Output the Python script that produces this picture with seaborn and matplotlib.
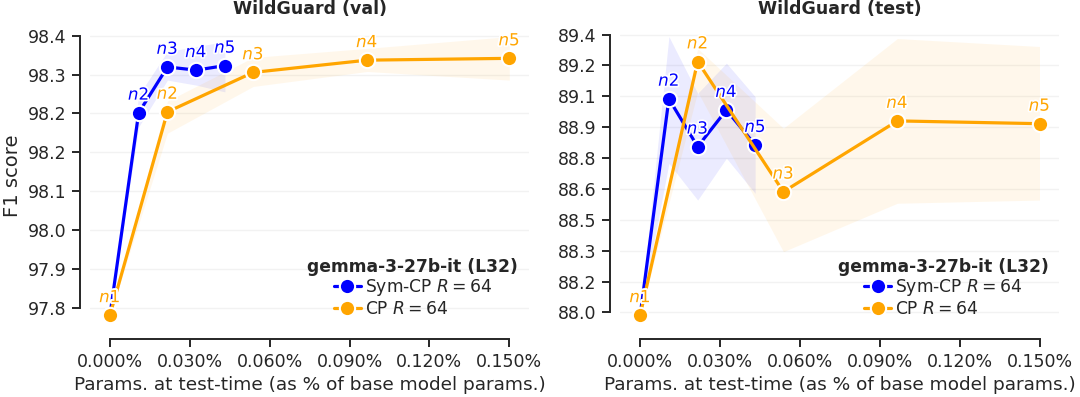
import matplotlib
matplotlib.use("Agg")
import matplotlib.pyplot as plt
import matplotlib.patheffects as pe
from matplotlib.ticker import FuncFormatter
import seaborn as sns
import numpy as np
import pandas as pd

# x positions: params at test-time (% of base model params)
symcp_x = [0.0, 0.0108, 0.0216, 0.0324, 0.0432]
cp_x = [0.0, 0.0216, 0.0538, 0.0966, 0.1500]
point_names = ["n1", "n2", "n3", "n4", "n5"]

# WildGuard (val)
val_symcp = [97.794, 98.240, 98.341, 98.334, 98.344]
val_symcp_lo = [97.794, 98.209, 98.312, 98.301, 98.286]
val_symcp_hi = [97.794, 98.279, 98.375, 98.386, 98.397]
val_cp = [97.794, 98.242, 98.329, 98.356, 98.360]
val_cp_lo = [97.794, 98.195, 98.298, 98.331, 98.312]
val_cp_hi = [97.794, 98.266, 98.362, 98.382, 98.408]

# WildGuard (test)
test_symcp = [87.986, 89.076, 88.835, 89.020, 88.844]
test_symcp_lo = [87.986, 88.751, 88.566, 88.777, 88.600]
test_symcp_hi = [87.986, 89.390, 89.104, 89.256, 89.087]
test_cp = [87.986, 89.264, 88.608, 88.965, 88.951]
test_cp_lo = [87.986, 89.112, 88.306, 88.550, 88.566]
test_cp_hi = [87.986, 89.330, 88.928, 89.380, 89.340]

val_yticks = np.linspace(97.81, 98.41, 8)
test_yticks = np.linspace(88.0, 89.4, 10)
xticks = [0.0, 0.03, 0.06, 0.09, 0.12, 0.15]

sns.set_theme(style="ticks")
plt.rcParams["font.family"] = ["DejaVu Sans"]

colors = {"Sym-CP $R=64$": "#0000ff", "CP $R=64$": "#ffa500"}

fig, axes = plt.subplots(1, 2, figsize=(10.8, 3.97), dpi=100)
fig.subplots_adjust(left=0.0833, right=0.981, bottom=0.171, top=0.943, wspace=0.207)

panels = [
    ("WildGuard (val)", val_symcp, val_symcp_lo, val_symcp_hi, val_cp, val_cp_lo, val_cp_hi, val_yticks),
    ("WildGuard (test)", test_symcp, test_symcp_lo, test_symcp_hi, test_cp, test_cp_lo, test_cp_hi, test_yticks),
]

for ax, (title, sy, slo, shi, cy, clo, chi, yticks) in zip(axes, panels):
    ax.grid(axis="y", color="#f2f2f2", linewidth=1, zorder=0)
    series = [("Sym-CP $R=64$", symcp_x, sy, slo, shi), ("CP $R=64$", cp_x, cy, clo, chi)]
    for name, xs, ys, lo, hi in series:
        c = colors[name]
        ax.fill_between(xs, lo, hi, color=c, alpha=0.08, linewidth=0)
        df = pd.DataFrame({"x": xs, "y": ys})
        sns.lineplot(data=df, x="x", y="y", ax=ax, color=c, marker="o", markersize=11,
                     markeredgecolor="white", markeredgewidth=1.5, linewidth=2.3, label=name)
        for px, py, nm in zip(xs, ys, point_names):
            ax.annotate(f"${nm}$", (px, py), xytext=(0, 6.5), textcoords="offset points",
                        ha="center", va="bottom", fontsize=12, color=c,
                        path_effects=[pe.withStroke(linewidth=2.5, foreground="white")])
    ax.set_xticks(xticks)
    ax.xaxis.set_major_formatter(FuncFormatter(lambda v, p: f"{v:.3f}%"))
    ax.set_yticks(yticks)
    ax.yaxis.set_major_formatter(FuncFormatter(lambda v, p: f"{v:.1f}"))
    ax.tick_params(labelsize=12.5, length=6, width=1.4, pad=4)
    ax.set_title(title, fontsize=12.5, fontweight="bold", pad=6)
    ax.set_xlabel("Params. at test-time (as % of base model params.)", fontsize=13.3)
    ax.set_ylabel("")
    leg = ax.legend(title="gemma-3-27b-it (L32)", loc="lower right", frameon=False,
                    fontsize=12.3, title_fontproperties={"weight": "bold", "size": 12.3},
                    handlelength=1.6, handletextpad=0.2, borderpad=0.15, labelspacing=0.1)
    sns.despine(ax=ax, offset=7, trim=True)
    for sp in ["left", "bottom"]:
        ax.spines[sp].set_linewidth(1.4)
        ax.spines[sp].set_color("#262626")

axes[0].set_ylabel("F1 score", fontsize=14)

fig.savefig("out.png", dpi=100)
